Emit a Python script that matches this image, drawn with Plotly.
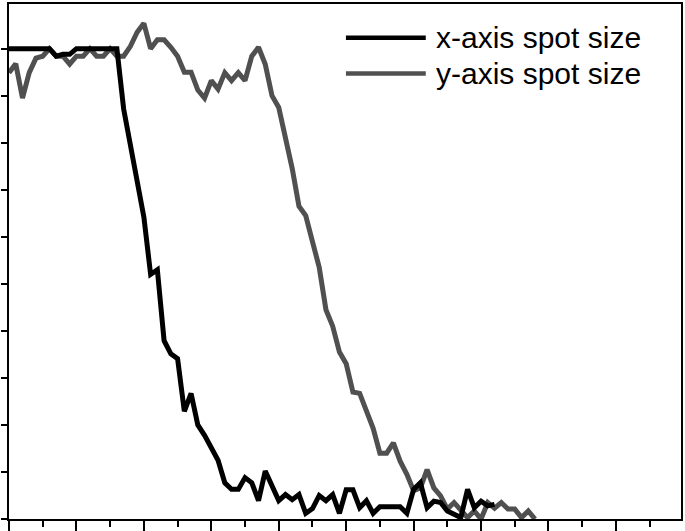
import plotly.graph_objects as go

# Normalized spot size, sampled at equal steps (step index 0..)
x_axis_spot = [1.0, 1.0, 1.0, 1.0, 1.0, 1.0, 1.0, 0.984, 0.988, 0.988,
               1.0, 1.0, 1.0, 1.0, 1.0, 1.0, 1.0, 0.872, 0.798, 0.727,
               0.642, 0.52, 0.53, 0.379, 0.351, 0.341, 0.229, 0.267, 0.2, 0.178,
               0.15, 0.125, 0.077, 0.063, 0.063, 0.088, 0.077, 0.039, 0.102, 0.071,
               0.039, 0.052, 0.041, 0.052, 0.012, 0.022, 0.050, 0.039, 0.052, 0.012,
               0.062, 0.062, 0.024, 0.039, 0.012, 0.026, 0.026, 0.026, 0.026, 0.012,
               0.063, 0.077, 0.024, 0.038, 0.035, 0.017, 0.01, 0.003, 0.063, 0.024,
               0.038, 0.028, 0.031]

y_axis_spot = [0.949, 0.968, 0.895, 0.949, 0.98, 0.984, 1.0, 0.984, 0.984, 0.967,
               0.984, 0.984, 1.0, 0.984, 0.984, 1.0, 0.984, 0.984, 1.005, 1.035,
               1.054, 1.0, 1.019, 1.019, 1.003, 0.984, 0.95, 0.95, 0.912, 0.895,
               0.932, 0.914, 0.949, 0.932, 0.949, 0.932, 0.984, 1.003, 0.967, 0.9,
               0.875, 0.815, 0.745, 0.665, 0.645, 0.59, 0.535, 0.445, 0.41, 0.355,
               0.33, 0.27, 0.267, 0.23, 0.193, 0.14, 0.14, 0.162, 0.123, 0.095,
               0.06, 0.066, 0.105, 0.066, 0.049, 0.021, 0.035, 0.019, 0.003, 0.017,
               0.0, 0.035, 0.023, 0.035, 0.021, 0.021, 0.003, 0.017, 0.0]

x_steps_black = list(range(len(x_axis_spot)))
x_steps_gray = list(range(len(y_axis_spot)))

series_names = ["x-axis spot size", "y-axis spot size"]

BLACK = "#000000"
GRAY = "#505050"

fig = go.Figure()
fig.add_trace(go.Scatter(x=x_steps_gray, y=y_axis_spot, mode="lines",
                         line=dict(color=GRAY, width=5), name=series_names[1],
                         showlegend=False))
fig.add_trace(go.Scatter(x=x_steps_black, y=x_axis_spot, mode="lines",
                         line=dict(color=BLACK, width=5), name=series_names[0],
                         showlegend=False))

# Hand-made legend (long line samples, as in the reference)
legend_items = [(series_names[0], BLACK, 0.9345), (series_names[1], GRAY, 0.865)]
for name, color, yy in legend_items:
    fig.add_shape(type="line", xref="paper", yref="paper",
                  x0=0.5014, x1=0.6202, y0=yy, y1=yy,
                  line=dict(color=color, width=4.5))
    fig.add_annotation(xref="paper", yref="paper", x=0.6325, y=yy,
                       xanchor="left", yanchor="middle", showarrow=False,
                       text=name, font=dict(family="Liberation Sans, Arial",
                                            size=30, color="#000000"))

fig.update_layout(
    width=685, height=531,
    margin=dict(l=9, r=2, t=2, b=10),
    paper_bgcolor="white", plot_bgcolor="white",
    showlegend=False,
    xaxis=dict(range=[0, 99.65], showgrid=False, zeroline=False,
               showline=True, linecolor="black", linewidth=2, mirror=True,
               ticks="outside", ticklen=10, tickwidth=2, tickcolor="black",
               dtick=10, tick0=0, showticklabels=False,
               minor=dict(ticks="outside", ticklen=6, tickwidth=2,
                          tickcolor="black", dtick=5, showgrid=False)),
    yaxis=dict(range=[0, 1.095], showgrid=False, zeroline=False,
               showline=True, linecolor="black", linewidth=2, mirror=True,
               ticks="outside", ticklen=6, tickwidth=2, tickcolor="black",
               dtick=0.1, tick0=0, showticklabels=False),
)

fig.write_html(
    "out.html",
    config={"displayModeBar": False},
    post_script="document.body.style.margin='0';document.body.style.overflow='hidden';",
)
